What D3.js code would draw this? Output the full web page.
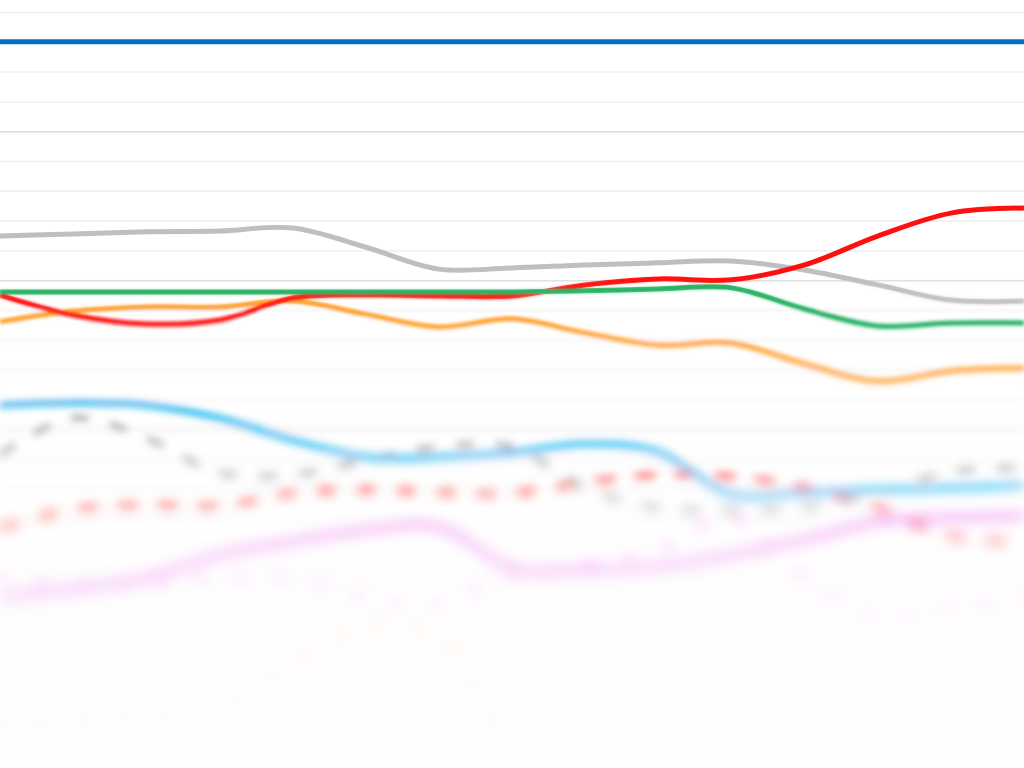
<!DOCTYPE html>
<html>
<head>
<meta charset="utf-8">
<script src="https://d3js.org/d3.v7.min.js"></script>
<style>
  html, body { margin: 0; padding: 0; background: #fff; overflow: hidden; }
  svg { display: block; }
</style>
</head>
<body>
<div id="chart"></div>
<script>
let width = 1024, height = 768;

// x positions are just sample indices
let periods = d3.range(15);

let gridValues = d3.range(0, 25);
let majorGrid = [0, 5, 10, 15, 20];

let blueLine     = [23, 23, 23, 23, 23, 23, 23, 23, 23, 23, 23, 23, 23, 23, 23];
let graySolid    = [16.48, 16.55, 16.62, 16.65, 16.75, 16.11, 15.37, 15.41, 15.51, 15.58, 15.64, 15.34, 14.84, 14.33, 14.30];
let redSolid     = [14.50, 13.83, 13.53, 13.66, 14.40, 14.50, 14.47, 14.47, 14.84, 15.04, 15.01, 15.51, 16.48, 17.25, 17.42];
let greenSolid   = [14.60, 14.60, 14.60, 14.60, 14.60, 14.60, 14.60, 14.60, 14.64, 14.70, 14.74, 14.03, 13.46, 13.56, 13.56];
let orangeSolid  = [13.60, 13.96, 14.10, 14.10, 14.30, 13.86, 13.43, 13.70, 13.23, 12.82, 12.89, 12.19, 11.61, 11.95, 12.05];
let skySolid     = [10.81, 10.88, 10.81, 10.37, 9.63, 9.06, 9.06, 9.20, 9.50, 9.23, 7.82, 7.86, 7.96, 8.02, 8.09];
let grayDashed   = [9.13, 10.37, 9.70, 8.53, 8.46, 8.96, 9.40, 9.40, 8.02, 7.35, 7.28, 7.35, 7.86, 8.56, 8.69];
let redDashed    = [6.68, 7.28, 7.45, 7.42, 7.86, 7.96, 7.89, 7.86, 8.19, 8.46, 8.39, 8.02, 7.35, 6.38, 6.18];
let pinkSolid    = [4.36, 4.60, 5.00, 5.77, 6.21, 6.61, 6.71, 5.34, 5.27, 5.40, 5.77, 6.28, 6.88, 7.02, 7.08];
let pinkDotted   = [5.00, 4.77, 4.77, 5.00, 5.00, 4.36, 4.10, 5.10, 5.44, 5.94, 7.02, 5.00, 3.59, 4.03, 4.26];
let orangeDotted = [0.07, 0.30, 0.44, 0.64, 2.08, 3.35, 2.95, -0.77, -3.1, -3.5, -3.5, -3.5, -3.5, -3.5, -3.5];

let seriesList = [
  {name: "orangeDotted", values: orangeDotted, color: "#ffa020", width: 6, dash: "3 37", cap: "round"},
  {name: "pinkDotted", values: pinkDotted, color: "#ff66ff", width: 6, dash: "3 37", cap: "round"},
  {name: "pinkSolid", values: pinkSolid, color: "#ee70ee", width: 6, dash: null, cap: "butt"},
  {name: "redDashed", values: redDashed, color: "#ff2020", width: 6, dash: "20 20", cap: "butt"},
  {name: "grayDashed", values: grayDashed, color: "#999999", width: 5, dash: "18 22", cap: "butt"},
  {name: "skySolid", values: skySolid, color: "#00b0f0", width: 6, dash: null, cap: "butt"},
  {name: "orangeSolid", values: orangeSolid, color: "#ffa030", width: 5, dash: null, cap: "butt"},
  {name: "graySolid", values: graySolid, color: "#bfbfbf", width: 5, dash: null, cap: "butt"},
  {name: "redSolid", values: redSolid, color: "#ff1010", width: 5, dash: null, cap: "butt"},
  {name: "greenSolid", values: greenSolid, color: "#20b060", width: 5, dash: null, cap: "butt"},
  {name: "blueLine", values: blueLine, color: "#0070c0", width: 5, dash: null, cap: "butt"}
];

let xScale = d3.scalePoint()
  .domain(periods)
  .range([0, width]);

let yScale = d3.scaleLinear()
  .domain([0, 24])
  .range([727, 12]);

let line = d3.line()
  .x((d, i) => xScale(periods[i]))
  .y(d => yScale(d))
  .curve(d3.curveCatmullRom.alpha(0.5));

let svg = d3.select("#chart")
  .append("svg")
  .attr("width", width)
  .attr("height", height);

let defs = svg.append("defs");

function drawContent(g) {
  let yAxis = d3.axisLeft(yScale)
    .tickValues(gridValues)
    .tickSize(-width)
    .tickFormat("");

  let axisG = g.append("g")
    .attr("class", "y axis")
    .call(yAxis);
  axisG.select(".domain").remove();
  axisG.selectAll(".tick line")
    .attr("stroke", d => majorGrid.includes(d) ? "#dedede" : "#efefef")
    .attr("stroke-width", 1.5);

  g.selectAll("path.series")
    .data(seriesList)
    .enter()
    .append("path")
    .attr("class", "series")
    .attr("d", d => line(d.values))
    .attr("fill", "none")
    .attr("stroke", d => d.color)
    .attr("stroke-width", d => d.width)
    .attr("stroke-dasharray", d => d.dash)
    .attr("stroke-linecap", d => d.cap);
}

// depth of field: blur grows towards the bottom of the picture.
// one full copy per blur level, cross-faded in y with gradient masks
let blurScale = d3.scalePow()
  .exponent(1.3)
  .domain([240, 768])
  .range([0, 13])
  .clamp(true);

let blurLevels = [0, 0.7, 1.5, 2.5, 3.6, 4.8, 6.2, 7.8, 9.6, 11.5, 13];
let levelY = blurLevels.map(s => blurScale.invert(s));

blurLevels.forEach((sd, i) => {
  let layer = svg.append("g");

  if (i > 0) {
    let grad = defs.append("linearGradient")
      .attr("id", "fade" + i)
      .attr("gradientUnits", "userSpaceOnUse")
      .attr("x1", 0).attr("x2", 0)
      .attr("y1", levelY[i - 1])
      .attr("y2", levelY[i]);
    grad.append("stop").attr("offset", 0).attr("stop-color", "#000");
    grad.append("stop").attr("offset", 1).attr("stop-color", "#fff");

    defs.append("mask")
      .attr("id", "mask" + i)
      .attr("maskUnits", "userSpaceOnUse")
      .attr("x", 0).attr("y", 0)
      .attr("width", width).attr("height", height)
      .append("rect")
      .attr("width", width)
      .attr("height", height)
      .attr("fill", "url(#fade" + i + ")");

    layer.attr("mask", "url(#mask" + i + ")");
  }

  layer.append("rect")
    .attr("width", width)
    .attr("height", height)
    .attr("fill", "#fff");

  let inner = layer.append("g");
  if (sd > 0) {
    defs.append("filter")
      .attr("id", "blur" + i)
      .attr("filterUnits", "userSpaceOnUse")
      .attr("x", -60).attr("y", -60)
      .attr("width", width + 120)
      .attr("height", height + 120)
      .append("feGaussianBlur")
      .attr("stdDeviation", sd);
    inner.attr("filter", "url(#blur" + i + ")");
  }
  drawContent(inner);
});

// white haze over the far (lower) part
let fogStops = [
  {y: 380, a: 0},
  {y: 480, a: 0.2},
  {y: 580, a: 0.42},
  {y: 680, a: 0.6},
  {y: 768, a: 0.7}
];

let fog = defs.append("linearGradient")
  .attr("id", "fog")
  .attr("gradientUnits", "userSpaceOnUse")
  .attr("x1", 0).attr("x2", 0)
  .attr("y1", 0).attr("y2", height);
fog.selectAll("stop")
  .data(fogStops)
  .enter()
  .append("stop")
  .attr("offset", d => d.y / height)
  .attr("stop-color", "#fff")
  .attr("stop-opacity", d => d.a);

svg.append("rect")
  .attr("width", width)
  .attr("height", height)
  .attr("fill", "url(#fog)");
</script>
</body>
</html>
